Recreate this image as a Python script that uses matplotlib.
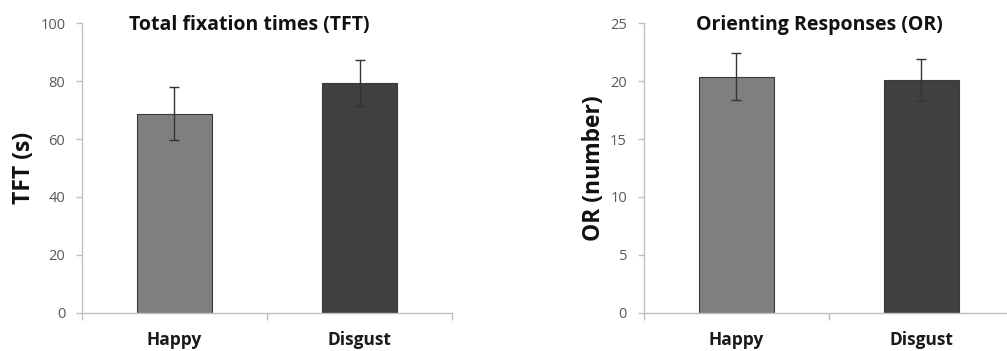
import matplotlib
matplotlib.use("Agg")
import matplotlib.pyplot as plt

categories = ["Happy", "Disgust"]
bar_colors = ["#7f7f7f", "#404040"]

tft_means = [68.8, 79.4]
tft_errors = [9.1, 7.8]
tft_yticks = [0, 20, 40, 60, 80, 100]

or_means = [20.4, 20.1]
or_errors = [2.0, 1.8]
or_yticks = [0, 5, 10, 15, 20, 25]

plt.rcParams["font.family"] = ["Open Sans", "DejaVu Sans"]

fig = plt.figure(figsize=(10.07, 3.51), dpi=100)
ax1 = fig.add_axes([0.0814, 0.109, 0.3675, 0.8246])
ax2 = fig.add_axes([0.6392, 0.109, 0.3675, 0.8246])

panels = [
    (ax1, tft_means, tft_errors, tft_yticks, "Total fixation times (TFT)", "TFT (s)", 0.451),
    (ax2, or_means, or_errors, or_yticks, "Orienting Responses (OR)", "OR (number)", 0.476),
]

axis_gray = "#bfbfbf"
for ax, means, errs, yticks, title, ylabel, title_x in panels:
    x = list(range(len(categories)))
    ax.bar(x, means, width=0.405, color=bar_colors, edgecolor="#3a3a3a",
           linewidth=0.8, zorder=2)
    ax.errorbar(x, means, yerr=errs, fmt="none", ecolor="#333333",
                elinewidth=1.0, capsize=3.5, capthick=1.0, zorder=3)
    ax.set_xlim(-0.5, len(categories) - 0.5)
    ax.set_ylim(yticks[0], yticks[-1])
    ax.set_yticks(yticks)
    ax.set_yticklabels([str(t) for t in yticks], fontsize=10.5, color="#595959")
    ax.set_xticks(x)
    ax.set_xticklabels(categories, fontsize=12.5, fontweight="bold", color="#1a1a1a")
    ax.tick_params(axis="x", length=0, pad=13)
    ax.set_xticks([i - 0.5 for i in range(len(categories) + 1)], minor=True)
    ax.tick_params(axis="x", which="minor", length=5, color=axis_gray, width=1)
    ax.tick_params(axis="y", length=4, color=axis_gray, width=1, pad=8)
    for side in ("top", "right"):
        ax.spines[side].set_visible(False)
    for side in ("left", "bottom"):
        ax.spines[side].set_color(axis_gray)
        ax.spines[side].set_linewidth(1.0)
    ax.text(title_x, 0.995, title, transform=ax.transAxes, ha="center", va="center",
            fontsize=14, fontweight="bold", color="#111111")
    ax.set_ylabel(ylabel, fontsize=16.5, fontweight="bold", color="#111111", labelpad=3)

fig.savefig("out.png", dpi=100)
